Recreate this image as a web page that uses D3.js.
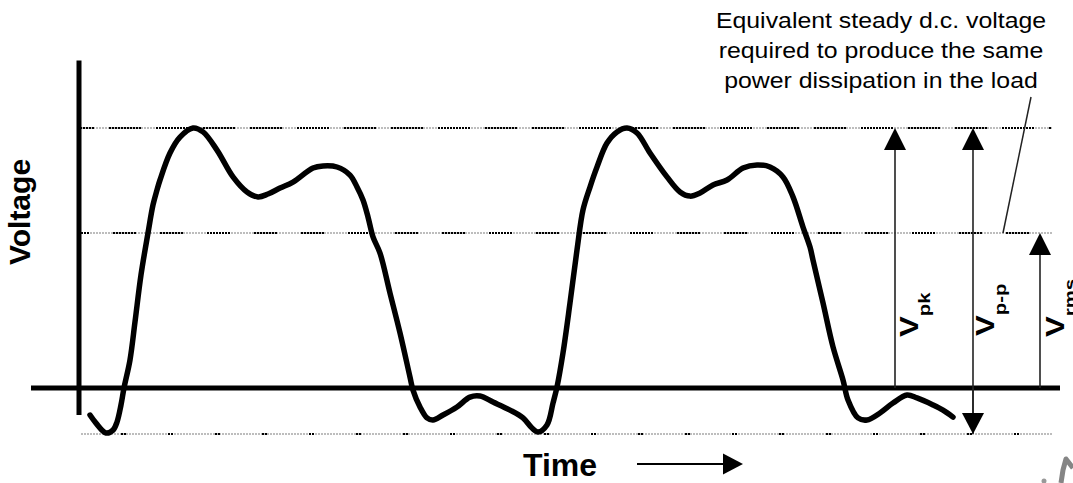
<!DOCTYPE html>
<html>
<head>
<meta charset="utf-8">
<script src="https://cdn.jsdelivr.net/npm/d3@7"></script>
<style>
  html, body { margin: 0; padding: 0; background: #fff; }
  svg { display: block; }
  text { font-family: "Liberation Sans", Arial, sans-serif; }
</style>
</head>
<body>
<script>
// ---- data ----
const time = [11,17,27,34,38,42,45,51,56,62,69,74,78,81,91,101,114,124,138,154,168,179,189,201,214,234,244,258,271,278,284,289,294,301,311,321,331,334,341,348,354,364,378,391,401,414,431,444,453,459,468,474,478,484,491,498,504,511,518,528,538,548,558,571,588,601,611,621,634,648,664,678,691,704,714,724,731,734,744,754,764,769,779,788,801,814,828,838,854,864,874];
const voltage = [-10.4,-13.5,-17.3,-16.2,-13.1,-6.5,0,10.8,25.4,43.5,59.6,70.4,76.2,80,90.4,96.5,100,98.5,91.5,81.2,75.4,73.5,74.6,76.9,79.2,84.6,85.4,85,81.9,77.3,72.3,65.8,58.1,51.9,36.5,21.2,4.2,-0.8,-7.3,-11.5,-12.3,-10.4,-7.3,-3.5,-3.1,-5.4,-8.5,-11.5,-15.4,-16.9,-14.2,-5.8,0.4,13.5,32.7,53.1,68.5,77.3,85,94.2,98.5,100,98.1,90.4,81.2,75.4,73.8,75,78.1,80,84.6,85.8,85,81.2,73.5,61.9,54.2,49.2,32.7,15.8,3.1,-4.6,-11.5,-12.3,-9.6,-5.8,-2.7,-3.8,-6.5,-8.5,-11.2];
const levelNames = ["peak", "rms", "trough"];
const levelValues = [100, 59.6, -17.7];
const measureNames = ["pk", "p-p", "rms"];
const annotationLines = ["Equivalent steady d.c. voltage", "required to produce the same", "power dissipation in the load"];
const axisTitleX = "Time";
const axisTitleY = "Voltage";

// ---- layout ----
const W = 1073, H = 483;
const svg = d3.select("body").append("svg").attr("width", W).attr("height", H);
svg.append("rect").attr("width", W).attr("height", H).attr("fill", "#fff");

const x = d3.scaleLinear().domain([0, 981]).range([79, 1060]);
const y = d3.scaleLinear().domain([0, 100]).range([388, 128]);

function tri(cx, tipY, dir, hw, h) {
  const by = tipY - dir * h;
  return `M${cx},${tipY}L${cx - hw},${by}L${cx + hw},${by}Z`;
}
function dotted(black, gap) {
  const parts = [];
  const n = Math.max(1, Math.floor(black / 3));
  for (let i = 0; i < n; i++) parts.push(2, 1);
  parts[parts.length - 1] += gap;
  return parts.join(",");
}

// ---- dotted reference levels ----
const dashStyles = [
  { black: 33, gap: 14, off: 19 },
  { black: 24, gap: 23, off: 15 },
  { black: 6, gap: 41, off: 7 }
];
const lvl = svg.append("g");
levelValues.forEach((v, i) => {
  lvl.append("line")
    .attr("x1", x(2)).attr("x2", x(973))
    .attr("y1", y(v)).attr("y2", y(v))
    .attr("stroke", "#bdbdbd").attr("stroke-width", 2)
    .attr("stroke-dasharray", "2,1");
  lvl.append("line")
    .attr("x1", x(2)).attr("x2", x(973))
    .attr("y1", y(v)).attr("y2", y(v))
    .attr("stroke", "#000").attr("stroke-width", 2)
    .attr("stroke-dasharray", dotted(dashStyles[i].black, dashStyles[i].gap))
    .attr("stroke-dashoffset", dashStyles[i].off);
});

// ---- axes (bare lines) ----
svg.append("line")
  .attr("x1", x(-48)).attr("x2", x(981))
  .attr("y1", y(0)).attr("y2", y(0))
  .attr("stroke", "#000").attr("stroke-width", 5);
svg.append("line")
  .attr("x1", x(0)).attr("x2", x(0))
  .attr("y1", y(126)).attr("y2", y(-10.4))
  .attr("stroke", "#000").attr("stroke-width", 5);

// ---- waveform ----
const pts = time.map((t, i) => [t, voltage[i]]);
const line = d3.line().x(d => x(d[0])).y(d => y(d[1])).curve(d3.curveCatmullRom.alpha(0.5));
svg.append("path").attr("d", line(pts))
  .attr("fill", "none").attr("stroke", "#000")
  .attr("stroke-width", 5.5).attr("stroke-linejoin", "round").attr("stroke-linecap", "round");

// ---- measurement arrows ----
const arrowDefs = [
  { t: 816, from: 0, to: levelValues[0], both: false },
  { t: 894, from: levelValues[2], to: levelValues[0], both: true },
  { t: 961, from: 0, to: levelValues[1], both: false }
];
const ag = svg.append("g");
arrowDefs.forEach(a => {
  const cx = x(a.t);
  ag.append("line").attr("x1", cx).attr("x2", cx)
    .attr("y1", y(a.from)).attr("y2", y(a.to) + 10)
    .attr("stroke", "#222").attr("stroke-width", 1.6);
  ag.append("path").attr("d", tri(cx, y(a.to), -1, 11, 22)).attr("fill", "#000");
  if (a.both) {
    ag.append("line").attr("x1", cx).attr("x2", cx)
      .attr("y1", y(0)).attr("y2", y(a.from) - 10)
      .attr("stroke", "#222").attr("stroke-width", 1.6);
    ag.append("path").attr("d", tri(cx, y(a.from), 1, 11, 21)).attr("fill", "#000");
  }
});

// ---- rotated V labels ----
const labelPos = [
  { bx: 918, sy: 337 },
  { bx: 994, sy: 336 },
  { bx: 1064, sy: 337 }
];
measureNames.forEach((name, i) => {
  const p = labelPos[i];
  const g = svg.append("g").attr("transform", `translate(${p.bx},${p.sy}) rotate(-90) scale(1.2,1)`);
  const tx = g.append("text").attr("x", 0).attr("y", 0)
    .attr("font-weight", "bold").attr("font-size", 26).attr("fill", "#000");
  tx.append("tspan").text("V");
  tx.append("tspan").attr("dy", 12).attr("font-size", 17).text(name);
});

// ---- annotation text + leader ----
const ann = svg.append("text").attr("text-anchor", "middle").attr("font-size", 22).attr("fill", "#000")
  .attr("transform", "translate(881,0) scale(1.13,1)");
annotationLines.forEach((s, i) => {
  ann.append("tspan").attr("x", 0).attr("y", 28 + i * 30).text(s);
});
svg.append("line").attr("x1", 1031).attr("y1", 97).attr("x2", 1003).attr("y2", 233)
  .attr("stroke", "#222").attr("stroke-width", 1.5);

// ---- axis titles ----
svg.append("text").attr("x", 523).attr("y", 476)
  .attr("font-weight", "bold").attr("font-size", 32).text(axisTitleX);
svg.append("text").attr("transform", "translate(30,212) rotate(-90)")
  .attr("text-anchor", "middle").attr("font-weight", "bold").attr("font-size", 30).text(axisTitleY);

// time arrow
svg.append("line").attr("x1", 637).attr("x2", 727).attr("y1", 464).attr("y2", 464)
  .attr("stroke", "#000").attr("stroke-width", 2);
svg.append("path").attr("d", "M743,464L723,453.5L723,474.5Z").attr("fill", "#000");

// faint corner mark
svg.append("path").attr("d", "M1061,483L1063,470L1066,459L1073,468")
  .attr("fill", "none").attr("stroke", "#858585").attr("stroke-width", 5).attr("stroke-linejoin", "round");
svg.append("circle").attr("cx", 1044).attr("cy", 481).attr("r", 2.5).attr("fill", "#999");
</script>
</body>
</html>
